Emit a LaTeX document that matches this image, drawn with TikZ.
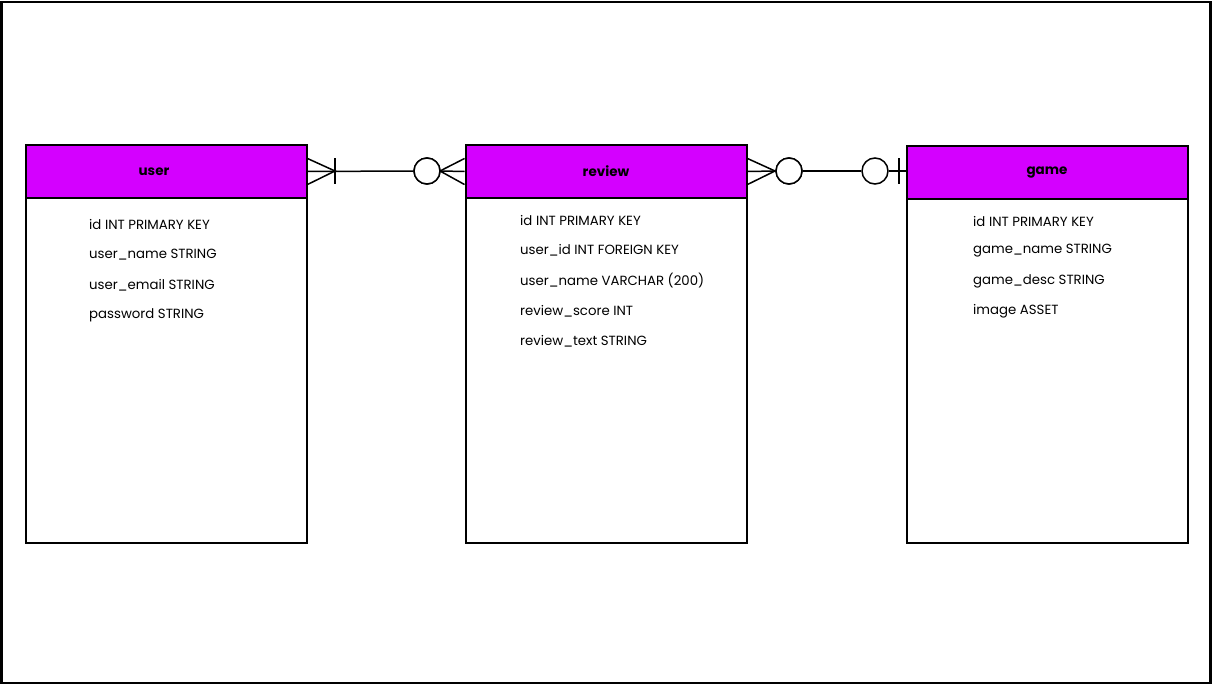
\documentclass[tikz,border=0pt]{standalone}
\usepackage{fontspec}
\setmainfont{Poppins}
\usetikzlibrary{calc}
\definecolor{hdr}{RGB}{212,0,255}
\tikzset{
  hdrbox/.style={draw=black, line width=2pt, fill=hdr, minimum width=281pt, minimum height=53pt, inner sep=0pt, anchor=north west},
  hdrlabel/.style={inner sep=0pt, font=\fontsize{13.5}{15}\selectfont\bfseries},
  bodybox/.style={draw=black, line width=2pt, fill=white, minimum width=281pt, inner sep=0pt, anchor=north west},
  row/.style={anchor=west, inner sep=0pt, font=\fontsize{13.3}{16}\selectfont},
  circ/.style={circle, draw=black, line width=1.5pt, fill=white, minimum size=26pt, inner sep=0pt},
  conn/.style={draw=black, line width=1.5pt},
}
\begin{document}
\begin{tikzpicture}[x=1pt,y=-1pt]
\useasboundingbox (0,0) rectangle (1212,685);
\draw[line width=2.5pt] (1.5,2) rectangle (1210.5,683);
% user
\node[bodybox, minimum height=345pt] (ub) at (24.5,197) {};
\node[hdrbox] (uh) at (24.5,144) {};
\node[hdrlabel] (ul) at ($(uh.center)+(-12,0)$) {user};
\node[row] (u1) at (89,224) {id INT PRIMARY KEY};
\node[row] (u2) at (89,255) {user\_name STRING};
\node[row] (u3) at (89,285) {user\_email STRING};
\node[row] (u4) at (89,315) {password STRING};
% review
\node[bodybox, minimum height=345pt] (rb) at (464.5,197) {};
\node[hdrbox] (rh) at (464.5,144) {};
\node[hdrlabel] (rl) at (rh.center) {review};
\node[row] (r1) at (520,220) {id INT PRIMARY KEY};
\node[row] (r2) at (520,250) {user\_id INT FOREIGN KEY};
\node[row] (r3) at (520,281) {user\_name VARCHAR (200)};
\node[row] (r4) at (520,311) {review\_score INT};
\node[row] (r5) at (520,341) {review\_text STRING};
% game
\node[bodybox, minimum height=344pt] (gb) at (905.5,198) {};
\node[hdrbox] (gh) at (905.5,145) {};
\node[hdrlabel] (gl) at (gh.center) {game};
\node[row] (g1) at (973,221) {id INT PRIMARY KEY};
\node[row] (g2) at (973,251) {game\_name STRING};
\node[row] (g3) at (973,281) {game\_desc STRING};
\node[row] (g4) at (973,311) {image ASSET};
% user -- review
\node[circ] (c1) at (427,171) {};
\coordinate (f1) at (335,171);
\coordinate (f2) at (440,171);
\draw[conn] (uh.east) -- (c1.west);
\draw[conn] (c1.east) -- (rh.west);
\draw[conn] ($(uh.east)+(0,-13)$) -- (f1) -- ($(uh.east)+(0,13)$);
\draw[conn] ($(f1)+(0,-13)$) -- ($(f1)+(0,13)$);
\draw[conn] ($(rh.west)+(0,-13)$) -- (f2) -- ($(rh.west)+(0,13)$);
\node[circ] at (c1) {};
% review -- game
\node[circ] (c2) at (789,171) {};
\node[circ] (c3) at (875,171) {};
\coordinate (f3) at (775,171);
\coordinate (b1) at (899,171);
\draw[conn] (rh.east) -- (c2.west);
\draw[conn] (c2.east) -- (c3.west);
\draw[conn] (c3.east) -- (gh.west |- c3);
\draw[conn] ($(rh.east)+(0,-13)$) -- (f3) -- ($(rh.east)+(0,13)$);
\draw[conn] ($(b1)+(0,-13)$) -- ($(b1)+(0,13)$);
\node[circ] at (c2) {};
\end{tikzpicture}
\end{document}
